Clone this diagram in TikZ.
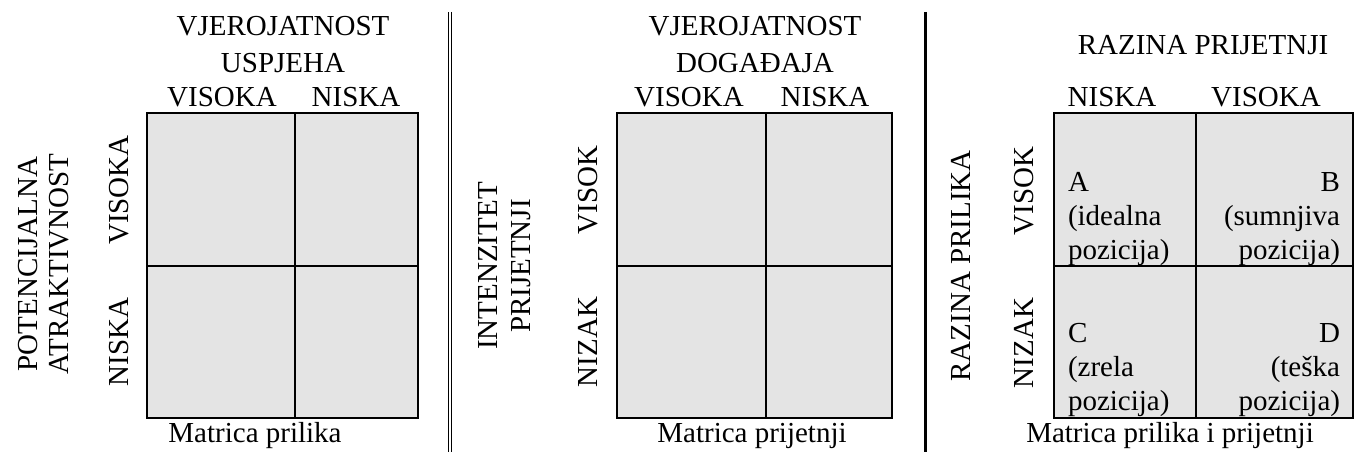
\documentclass[tikz,border=0pt]{standalone}
\usepackage{fontspec}
\setmainfont{Liberation Serif}
\usepackage{tikz}
\usetikzlibrary{positioning}
\definecolor{cellgray}{HTML}{E4E4E4}
\newcommand{\labelfont}{\fontsize{29}{34}\selectfont}
\tikzstyle{cell}=[fill=cellgray, draw=black, line width=2pt]
\tikzstyle{divider}=[draw=black, line width=2pt]
\tikzstyle{txt}=[inner sep=0, outer sep=0, font=\labelfont]
\tikzstyle{head}=[txt, anchor=base]
\tikzstyle{side}=[txt, anchor=base, rotate=90]
\tikzstyle{matrices}=[x=1pt, y=-1pt,
                      % Page frame of the whole picture.
                      execute at begin picture={\useasboundingbox (0, 0) rectangle (1356, 452);}]

\begin{document}
\begin{tikzpicture}[matrices]
        % Separators between the three matrices.
        \coordinate (sepA top) at (450, 12);
        \coordinate (sepA bot) at (450, 452);
        \coordinate (sepB top) at (925, 12);
        \coordinate (sepB bot) at (925, 452);
        \draw[double, double distance=2pt, line width=1.4pt] (sepA top) -- (sepA bot);
        \draw[line width=3pt] (sepB top) -- (sepB bot);

        % Matrica prilika
        \coordinate (L nw) at (147, 113);
        \coordinate (L se) at (418, 418);
        \coordinate (L mid) at (295, 266);
        \draw[cell] (L nw) rectangle (L se);
        \draw[divider] (L mid |- L nw) -- (L mid |- L se);
        \draw[divider] (L mid -| L nw) -- (L mid -| L se);
        \node[head] (L title1) at (283, 36) {VJEROJATNOST};
        \node[head] (L title2) at (283, 72) {USPJEHA};
        \node[head] (L col1) at (222, 106) {VISOKA};
        \node[head] (L col2) at (356, 106) {NISKA};
        \node[side] (L axis1) at (37, 264) {POTENCIJALNA};
        \node[side] (L axis2) at (68, 264) {ATRAKTIVNOST};
        \node[side] (L row1) at (128, 190) {VISOKA};
        \node[side] (L row2) at (128, 342) {NISKA};
        \node[head] (L caption) at (255, 442) {Matrica prilika};

        % Matrica prijetnji
        \coordinate (M nw) at (617, 113);
        \coordinate (M se) at (892, 418);
        \coordinate (M mid) at (766, 266);
        \draw[cell] (M nw) rectangle (M se);
        \draw[divider] (M mid |- M nw) -- (M mid |- M se);
        \draw[divider] (M mid -| M nw) -- (M mid -| M se);
        \node[head] (M title1) at (755, 36) {VJEROJATNOST};
        \node[head] (M title2) at (755, 72) {DOGAĐAJA};
        \node[head] (M col1) at (689, 106) {VISOKA};
        \node[head] (M col2) at (825, 106) {NISKA};
        \node[side] (M axis1) at (497, 266) {INTENZITET};
        \node[side] (M axis2) at (530, 266) {PRIJETNJI};
        \node[side] (M row1) at (597, 190) {VISOK};
        \node[side] (M row2) at (597, 342) {NIZAK};
        \node[head] (M caption) at (752, 442) {Matrica prijetnji};

        % Matrica prilika i prijetnji
        \coordinate (R nw) at (1054, 113);
        \coordinate (R se) at (1353, 418);
        \coordinate (R mid) at (1196, 266);
        \draw[cell] (R nw) rectangle (R se);
        \draw[divider] (R mid |- R nw) -- (R mid |- R se);
        \draw[divider] (R mid -| R nw) -- (R mid -| R se);
        \node[head] (R title) at (1203, 55) {RAZINA PRIJETNJI};
        \node[head] (R col1) at (1112, 106) {NISKA};
        \node[head] (R col2) at (1266, 106) {VISOKA};
        \node[side] (R axis) at (970, 266) {RAZINA PRILIKA};
        \node[side] (R row1) at (1033, 191) {VISOK};
        \node[side] (R row2) at (1033, 343) {NIZAK};
        \node[head] (R caption) at (1170, 442) {Matrica prilika i prijetnji};
        % Cell texts, anchored at the baseline of their last line.
        \node[txt, anchor=base west, align=left] (A) at (1068, 259) {A\\(idealna\\pozicija)};
        \node[txt, anchor=base east, align=right] (B) at (1340, 259) {B\\(sumnjiva\\pozicija)};
        \node[txt, anchor=base west, align=left] (C) at (1068, 410) {C\\(zrela\\pozicija)};
        \node[txt, anchor=base east, align=right] (D) at (1340, 410) {D\\(teška\\pozicija)};
    \end{tikzpicture}
\end{document}
